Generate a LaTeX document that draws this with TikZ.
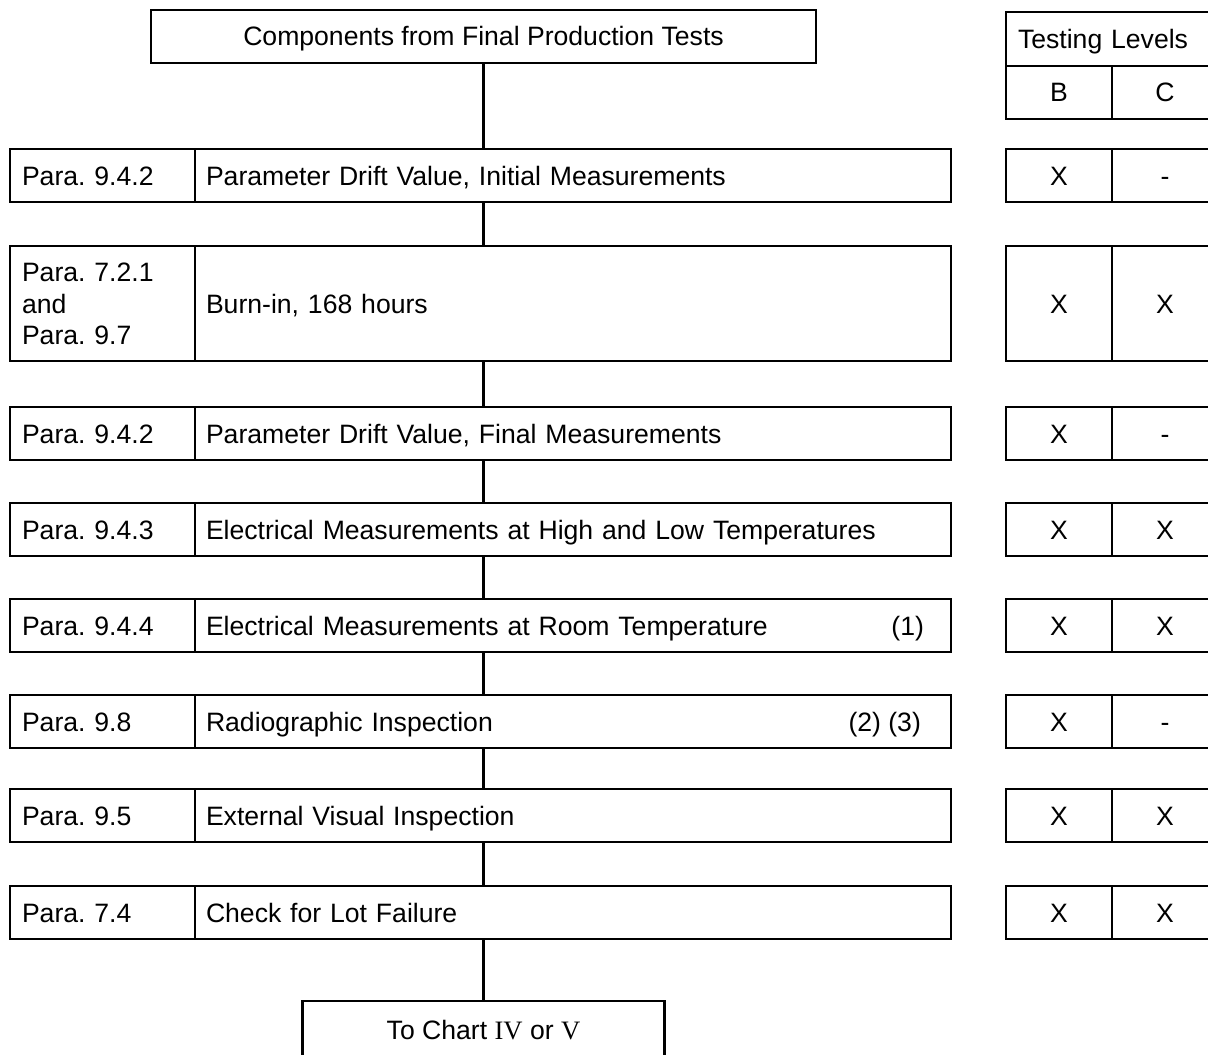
\documentclass[tikz,border=0pt]{standalone}
\usepackage{fontspec}
\setmainfont{Liberation Serif}
\setsansfont{Liberation Sans}
\usetikzlibrary{calc}
\frenchspacing
\newcommand\topstrut{\rule{0pt}{12.5pt}}
\newcommand\botstrut{\rule[-3pt]{0pt}{3pt}}

\begin{document}
\begin{tikzpicture}[x=0.5pt,y=-0.5pt,line width=1.1pt,
	font=\sffamily\fontsize{13.3}{15.75}\selectfont,
	box/.style={rectangle, draw=black, inner sep=0, outer sep=0, minimum height=26.5pt, anchor=north west,
		execute at begin node=\topstrut, execute at end node=\botstrut},
	parabox/.style={box, inner xsep=6pt, text width=80.5pt, align=left},
	stepbox/.style={box, inner xsep=5.5pt, text width=367pt, align=left},
	lvl/.style={box, minimum width=53pt, align=center},
	note/.style={anchor=east, inner sep=0, execute at begin node=\topstrut, execute at end node=\botstrut}]

		\useasboundingbox (0,0) rectangle (1208,1054);
		%start and end
		\node[box,minimum width=332.5pt] (top) at (151,10) {Components from Final Production Tests};
		\node[box,anchor=north,minimum width=181pt,minimum height=29pt] (end) at (483.5,1001) {To Chart {\rmfamily IV} or {\rmfamily V}};
		%testing levels header
		\node[box,inner xsep=6pt,text width=94pt,minimum height=27pt,align=left] (lvlhead) at (1006,12) {Testing Levels};
		\node[lvl] (lvlb) at (lvlhead.south west) {B};
		\node[lvl] (lvlc) at (lvlb.north east) {C};

		%test steps
		\foreach \i/\y/\h/\pnum/\txt/\b/\c in {
			1/149/26.5pt/{Para. 9.4.2}/{Parameter Drift Value, Initial Measurements}/X/-,
			2/246/57.5pt/{Para. 7.2.1\\and\\Para. 9.7}/{Burn-in, 168 hours}/X/X,
			3/407/26.5pt/{Para. 9.4.2}/{Parameter Drift Value, Final Measurements}/X/-,
			4/503/26.5pt/{Para. 9.4.3}/{Electrical Measurements at High and Low Temperatures}/X/X,
			5/599/26.5pt/{Para. 9.4.4}/{Electrical Measurements at Room Temperature}/X/X,
			6/695/26.5pt/{Para. 9.8}/{Radiographic Inspection}/X/-,
			7/789/26.5pt/{Para. 9.5}/{External Visual Inspection}/X/X,
			8/886/26.5pt/{Para. 7.4}/{Check for Lot Failure}/X/X} {
			\node[parabox,minimum height=\h] (p\i) at (10,\y) {\pnum};
			\node[stepbox,minimum height=\h] (s\i) at (p\i.north east) {\txt};
			\node[lvl,minimum height=\h] (b\i) at (1006,\y) {\b};
			\node[lvl,minimum height=\h] (c\i) at (b\i.north east) {\c};
		}
		\node[note] (n5) at ($(s5.east)+(-26,0)$) {(1)};
		\node[note] (n6) at ($(s6.east)+(-29,0)$) {(2) (3)};

		%trunk
		\draw (top.south) -- (top.south |- s1.north);
		\foreach \i [count=\j from 2] in {1,...,7} {
			\draw (top.south |- s\i.south) -- (top.south |- s\j.north);
		}
		\draw (top.south |- s8.south) -- (end.north);
	\end{tikzpicture}
\end{document}
